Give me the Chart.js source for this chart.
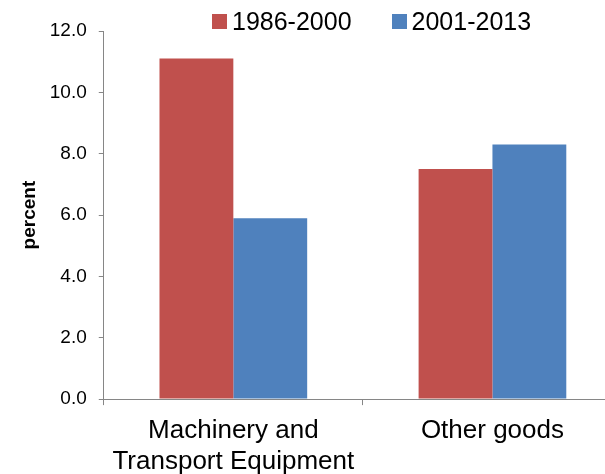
<!DOCTYPE html>
<html lang="en">
<head>
    <meta charset="UTF-8">
    <script src="https://cdn.jsdelivr.net/npm/chart.js@4.4.1/dist/chart.umd.min.js"></script>
    <title>Growth by product group</title>
    <style>
        html, body { margin: 0; padding: 0; background: #fff; overflow: hidden; }
        #wrap { position: relative; width: 622px; height: 474px; }
        #legend {
            position: absolute; top: 7px; left: 212px;
            display: flex; gap: 40px;
            font-family: "Liberation Sans", Arial, sans-serif; font-size: 25px; line-height: 28px; color: #000;
        }
        #legend .item { display: flex; align-items: center; }
        #legend .box { width: 15px; height: 15px; margin-right: 5px; }
    </style>
</head>
<body>
    <div id="wrap">
        <canvas id="chart"></canvas>
        <div id="legend"></div>
    </div>
    <script>
        const categories = [['Machinery and', 'Transport Equipment'], 'Other goods'];
        const seriesNames = ['1986-2000', '2001-2013'];
        const values1986 = [11.1, 7.5];
        const values2001 = [5.9, 8.3];
        const colors = ['#C0504D', '#4F81BD'];

        const axisGrey = '#868686';
        const font = 'Liberation Sans, Arial, sans-serif';

        const chart = new Chart(document.getElementById('chart'), {
            type: 'bar',
            data: {
                labels: categories,
                datasets: [
                    { label: seriesNames[0], data: values1986, backgroundColor: colors[0] },
                    { label: seriesNames[1], data: values2001, backgroundColor: colors[1] }
                ]
            },
            options: {
                responsive: true,
                maintainAspectRatio: false,
                animation: false,
                layout: { padding: { top: 31, left: 8, right: 0, bottom: -13 } },
                datasets: { bar: { categoryPercentage: 0.57, barPercentage: 1.0 } },
                plugins: { legend: { display: false }, tooltip: { enabled: false } },
                scales: {
                    x: {
                        grid: { drawOnChartArea: false, tickLength: 6, color: axisGrey, offset: true },
                        border: { color: axisGrey, width: 1 },
                        ticks: { color: '#000', padding: 10, font: { family: font, size: 26, lineHeight: 1.19 } }
                    },
                    y: {
                        min: 0, max: 12,
                        grid: { drawOnChartArea: false, tickLength: 5, color: axisGrey },
                        border: { color: axisGrey, width: 1 },
                        ticks: {
                            stepSize: 2, color: '#000', padding: 12,
                            font: { family: font, size: 19 },
                            callback: v => v.toFixed(1)
                        },
                        title: {
                            display: true, text: 'percent', color: '#000',
                            font: { family: font, size: 19, weight: 'bold' },
                            padding: { top: 10, bottom: -3 }
                        }
                    }
                }
            }
        });

        // legend drawn as html so the swatch sits close to its label
        const legend = document.getElementById('legend');
        chart.data.datasets.forEach(ds => {
            const item = document.createElement('div');
            item.className = 'item';
            const box = document.createElement('span');
            box.className = 'box';
            box.style.background = ds.backgroundColor;
            const txt = document.createElement('span');
            txt.textContent = ds.label;
            item.appendChild(box);
            item.appendChild(txt);
            legend.appendChild(item);
        });
    </script>
</body>
</html>
